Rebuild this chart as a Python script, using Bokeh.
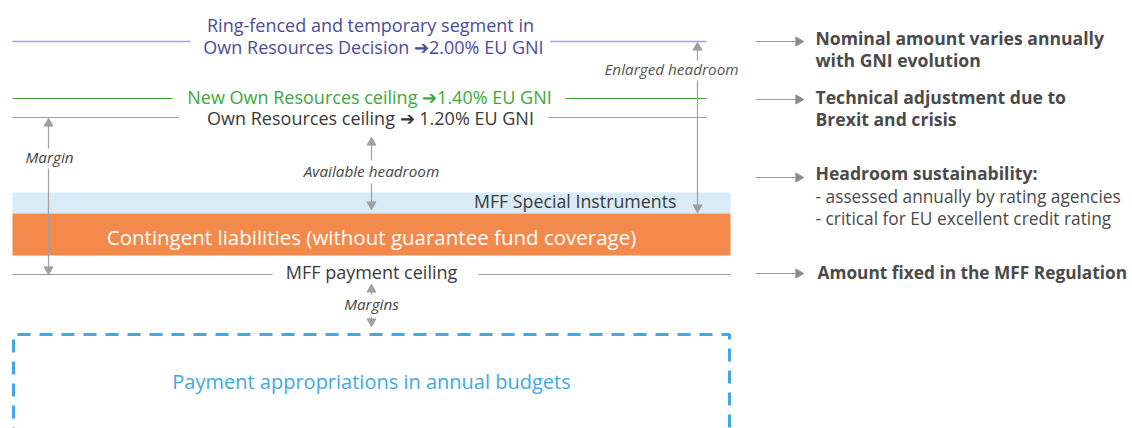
from bokeh.plotting import figure
from bokeh.models import Range1d
from bokeh.core.properties import value
from bokeh.embed import file_html
from bokeh.resources import INLINE

# ---- content ----
ceiling_labels = ["Ring-fenced and temporary segment in",
                  "Own Resources Decision \u27942.00% EU GNI",
                  "New Own Resources ceiling \u27941.40% EU GNI",
                  "Own Resources ceiling \u2794 1.20% EU GNI"]
gni_shares = [2.00, 1.40, 1.20]
band_labels = ["MFF Special Instruments",
               "Contingent liabilities (without guarantee fund coverage)"]
floor_label = "MFF payment ceiling"
budget_label = "Payment appropriations in annual budgets"
gap_labels = ["Enlarged headroom", "Margin", "Available headroom", "Margins"]
note_titles = ["Nominal amount varies annually", "with GNI evolution",
               "Technical adjustment due to", "Brexit and crisis",
               "Headroom sustainability:", "Amount fixed in the MFF Regulation"]
note_items = ["- assessed annually by rating agencies",
              "- critical for EU excellent credit rating"]

FONT = value("Open Sans")
PURPLE_T, PURPLE_L = "#4b4b9c", "#a5a4d2"
GREEN = "#3aaa35"
DARK = "#3a3a3a"
GREYL = "#a0a0a0"
NOTE = "#4a4a4a"
BLUE = "#41a9e1"
DY = -1.5  # baseline correction for the font

p = figure(width=1132, height=428, x_range=Range1d(0, 1132), y_range=Range1d(428, 0),
           output_backend="svg", toolbar_location=None, min_border=0)
p.axis.visible = False
p.grid.visible = False
p.outline_line_color = None
p.background_fill_color = "white"

def txt(x, y, s, color, size, align="center", style="normal"):
    p.text(x=[x], y=[y + DY], text=[s], text_color=color, text_font=FONT,
           text_font_size=f"{size}px", text_align=align, text_baseline="middle",
           text_font_style=style)

# ---- bands ----
p.quad(left=[12], right=[730], top=[192], bottom=[213], fill_color="#d8ebf7", line_color=None)
p.quad(left=[12], right=[730], top=[213], bottom=[255], fill_color="#f3894b", line_color=None)

# ---- ceiling lines ----
p.segment(x0=[12, 550], x1=[190, 706], y0=[41, 41], y1=[41, 41], line_color=PURPLE_L, line_width=1.3)
p.segment(x0=[12, 565], x1=[172, 706], y0=[98, 98], y1=[98, 98], line_color=GREEN, line_width=1.1)
p.segment(x0=[12, 548], x1=[178, 706], y0=[117, 117], y1=[117, 117], line_color=GREYL, line_width=1.1)
p.segment(x0=[12, 478], x1=[272, 730], y0=[274, 274], y1=[274, 274], line_color=GREYL, line_width=1.1)

txt(370, 26, ceiling_labels[0], PURPLE_T, 18)
txt(373, 48, ceiling_labels[1], PURPLE_T, 18)
txt(369, 98, ceiling_labels[2], GREEN, 18)
txt(370, 119, ceiling_labels[3], DARK, 18)
txt(676, 202, band_labels[0], DARK, 17.8, align="right")
txt(371, 238, band_labels[1], "white", 20.5)
txt(371, 273, floor_label, DARK, 18)

# ---- vertical double arrows ----
def vline(x, segs):
    for a, b in segs:
        p.segment(x0=[x], x1=[x], y0=[a], y1=[b], line_color=GREYL, line_width=1.2)

def head(x, y, up=True):
    p.scatter(x=[x], y=[y], marker="triangle" if up else "inverted_triangle",
              size=9, fill_color=GREYL, line_color=GREYL)

vline(697, [(46, 60), (80, 207)])
head(697, 47, True); head(697, 207, False)
txt(671, 70, gap_labels[0], "#555555", 15.3, style="italic")

vline(48, [(122, 148), (168, 270)])
head(48, 123, True); head(48, 269, False)
txt(25, 158, gap_labels[1], "#444444", 15.3, align="left", style="italic")

vline(371, [(140, 160), (183, 205)])
head(371, 142, True); head(371, 204, False)
txt(371, 172, gap_labels[2], "#444444", 15.3, style="italic")

vline(371, [(287, 294), (316, 322)])
head(371, 289, True); head(371, 321, False)
txt(371, 305, gap_labels[3], "#444444", 15.3, style="italic")

# ---- dashed budget box ----
p.line(x=[13, 13, 729, 729], y=[440, 334, 334, 440], line_color=BLUE,
       line_width=3, line_dash="13 9")
txt(371, 382, budget_label, BLUE, 20)

# ---- right-hand notes ----
for y in [41, 99, 177, 273]:
    p.segment(x0=[755], x1=[797], y0=[y], y1=[y], line_color=GREYL, line_width=1.1)
    p.scatter(x=[798], y=[y], marker="triangle", angle=-1.5708, size=9,
              fill_color="#8a8a8a", line_color="#8a8a8a")

txt(815, 39, note_titles[0], NOTE, 17.6, align="left", style="bold")
txt(815, 61, note_titles[1], NOTE, 17.6, align="left", style="bold")
txt(815, 98, note_titles[2], NOTE, 17.6, align="left", style="bold")
txt(815, 120, note_titles[3], NOTE, 17.6, align="left", style="bold")
txt(815, 174, note_titles[4], NOTE, 17.6, align="left", style="bold")
txt(815, 197, note_items[0], NOTE, 17.3, align="left")
txt(815, 219, note_items[1], NOTE, 17.3, align="left")
txt(817, 273, note_titles[5], NOTE, 17.3, align="left", style="bold")

open("out.html", "w").write(file_html(p, INLINE))
